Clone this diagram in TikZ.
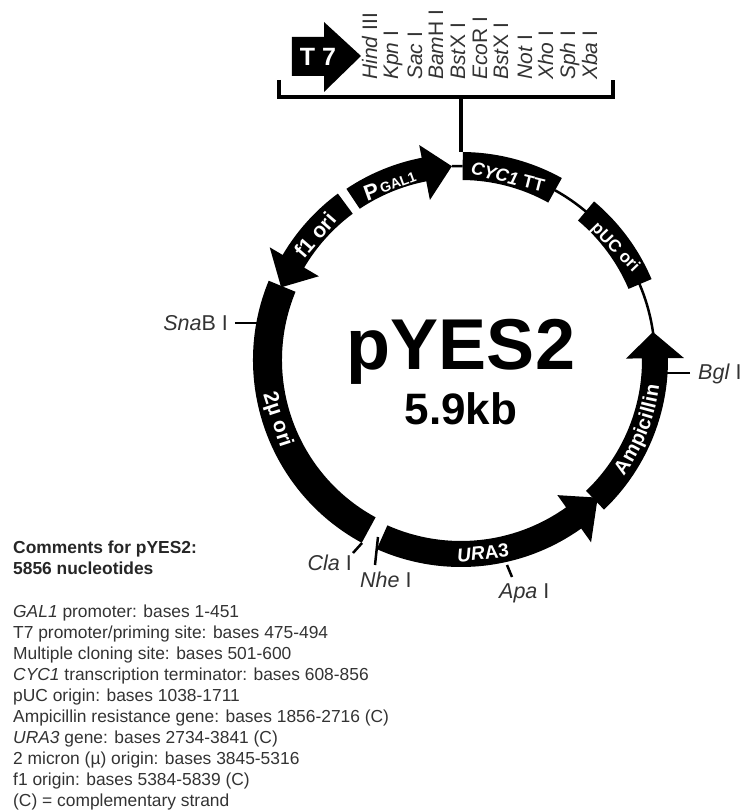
\documentclass[tikz,border=0pt]{standalone}
\usepackage{fontspec}
\setmainfont{Liberation Sans}
\usetikzlibrary{decorations.text}
\tikzset{
    ringpart/.style={fill=black},
    ringlabel/.style={text=white, font=\bfseries\fontsize{18}{20}\selectfont, inner sep=0pt},
    backbone/.style={line width=2.5pt},
    sitetick/.style={line width=2.5pt},
    sitelabel/.style={text=black!80, font=\fontsize{21.5}{24}\selectfont, inner sep=0pt},
    bigline/.style={line width=3.5pt},
}
\begin{document}
\begin{tikzpicture}[x=1pt, y=1pt]
    \useasboundingbox (-461,360) rectangle (280,-450);

    % Backbone
    \draw[backbone] (92.7:194) arc (92.7:89.5:194);
    \draw[backbone] (61:194) arc (61:8:194);

    % Ring pieces without a head
    \fill[ringpart] (89.5:208) arc (89.5:61:208) -- (61:180) arc (61:89.5:180) -- cycle;
    \fill[ringpart] (50:207) arc (50:23:207) -- (23:182) arc (23:50:182) -- cycle;
    \fill[ringpart] (157.6:208) arc (157.6:241.5:208) -- (241.5:179) arc (241.5:157.6:179) -- cycle;

    % Ring pieces with a head
    \fill[ringpart] (-46.3:207) arc (-46.3:0.5:207) -- (0.5:223) -- (8.3:194) -- (0.5:165) -- (0.5:181) arc (0.5:-46.3:181) -- cycle;
    \fill[ringpart] (246:207) arc (246:305.5:207) -- (305.5:224) -- (314.8:194) -- (305.5:166) -- (305.5:181) arc (305.5:246:181) -- cycle;
    \fill[ringpart] (126.5:207) arc (126.5:149.5:207) -- (149.5:222) -- (158:194) -- (149.5:165) -- (149.5:182) arc (149.5:126.5:182) -- cycle;
    \fill[ringpart] (123.8:206) arc (123.8:101:206) -- (101:219) -- (92.7:194) -- (101:163) -- (101:182) arc (101:123.8:182) -- cycle;

    % Ring labels
    \node[ringlabel, rotate=-14] (cyclabel) at (47,183) {\textit{CYC1} TT};
    \node[ringlabel, rotate=-46, font=\bfseries\fontsize{17}{18}\selectfont] (puclabel) at (154,112) {pUC ori};
    \node[ringlabel, rotate=20] (gallabel) at (-71,175) {\fontsize{22}{24}\selectfont P\fontsize{14}{16}\selectfont\,\raisebox{2.5pt}{GAL1}};
    \node[ringlabel, rotate=49, font=\bfseries\fontsize{21}{22}\selectfont] (f1label) at (-146,125) {f1 ori};
    \node[ringlabel, rotate=-72, font=\bfseries\fontsize{21}{22}\selectfont] (twolabel) at (-184,-60) {2µ ori};
    \node[ringlabel, rotate=6, font=\bfseries\fontsize{19}{22}\selectfont] (uralabel) at (22,-193) {\textit{UR}A3};
    \path[decorate, decoration={text along path, text align=center, raise=-6pt,
        text={|\bfseries\fontsize{20}{22}\selectfont\color{white}|Ampicillin}}]
        (-44:194) arc (-44:1:194);

    % Center
    \node[font=\bfseries\fontsize{72}{80}\selectfont, inner sep=0pt, anchor=base] (plasmidname) at (0,-10) {pYES2};
    \node[font=\bfseries\fontsize{44}{50}\selectfont, inner sep=0pt, anchor=base] (plasmidsize) at (0,-65) {5.9kb};

    % T7 arrow
    \fill (-169,323) -- (-137,323) -- (-137,338) -- (-100,304) -- (-137,268) -- (-137,284) -- (-169,284) -- cycle;
    \node[text=white, font=\bfseries\fontsize{25}{28}\selectfont, inner sep=0pt] (tseven) at (-143,303) {T 7};

    % Bracket
    \coordinate (bracketleft) at (-182,280);
    \coordinate (bracketcorner) at (-182,263);
    \coordinate (bracketother) at (152,263);
    \coordinate (bracketright) at (152,280);
    \coordinate (bracketstem) at (0,263);
    \coordinate (ringstem) at (0,208);
    \draw[bigline] (bracketleft) -- (bracketcorner) -- (bracketother) -- (bracketright);
    \draw[bigline, line width=4pt] (bracketstem) -- (ringstem);

    % Cloning sites
    \foreach \px/\site in {-84/{\textit{Hind} III}, -63/{\textit{Kpn} I}, -39/{\textit{Sac} I},
        -18/{\textit{Bam}H I}, 4/{\textit{Bst}X I}, 26/{\textit{Eco}R I}, 47/{\textit{Bst}X I},
        71/{\textit{Not} I}, 92/{\textit{Xho} I}, 114/{\textit{Sph} I}, 136/{\textit{Xba} I}} {
        \node[sitelabel, font=\fontsize{21}{24}\selectfont, rotate=90, anchor=base west] at (\px,280) {\site};
    }

    % Single cutters
    \node[sitelabel, anchor=east] (snab) at (-233,37) {\textit{Sna}B I};
    \coordinate (snabend) at (-226,37);
    \coordinate (snabring) at (-204,37);
    \draw[sitetick] (snabend) -- (snabring);

    \node[sitelabel, anchor=west] (bgl) at (237,-14) {\textit{Bgl} I};
    \coordinate (bglend) at (229,-13);
    \coordinate (bglring) at (206,-13);
    \draw[sitetick] (bglend) -- (bglring);

    \node[sitelabel, anchor=east] (cla) at (-109,-203) {\textit{Cla} I};
    \coordinate (claend) at (-108,-193);
    \coordinate (claring) at (-99,-183);
    \draw[sitetick] (claend) -- (claring);

    \node[sitelabel, anchor=west] (nhe) at (-101,-220) {\textit{Nhe} I};
    \coordinate (nheend) at (-86,-205);
    \coordinate (nhering) at (-83,-177);
    \draw[sitetick] (nheend) -- (nhering);

    \node[sitelabel, anchor=west] (apa) at (38,-233) {\textit{Apa} I};
    \coordinate (apaend) at (51,-217);
    \coordinate (aparing) at (46,-205);
    \draw[sitetick] (apaend) -- (aparing);

    % Comments
    \node[anchor=north west, align=left, inner sep=0pt, text=black!85,
        font=\bfseries\fontsize{17.4}{21}\selectfont] (commenthead) at (-448,-181)
        {Comments for pYES2:\\5856 nucleotides};
    \node[anchor=north west, align=left, inner sep=0pt, text=black!80,
        font=\fontsize{17.4}{21}\selectfont] (commentlist) at (-448,-245)
        {\textit{GAL1} promoter: bases 1-451\\
        T7 promoter/priming site: bases 475-494\\
        Multiple cloning site: bases 501-600\\
        \textit{CYC1} transcription terminator: bases 608-856\\
        pUC origin: bases 1038-1711\\
        Ampicillin resistance gene: bases 1856-2716 (C)\\
        \textit{URA3} gene: bases 2734-3841 (C)\\
        2 micron (µ) origin: bases 3845-5316\\
        f1 origin: bases 5384-5839 (C)\\
        (C) =  complementary strand};
\end{tikzpicture}
\end{document}
